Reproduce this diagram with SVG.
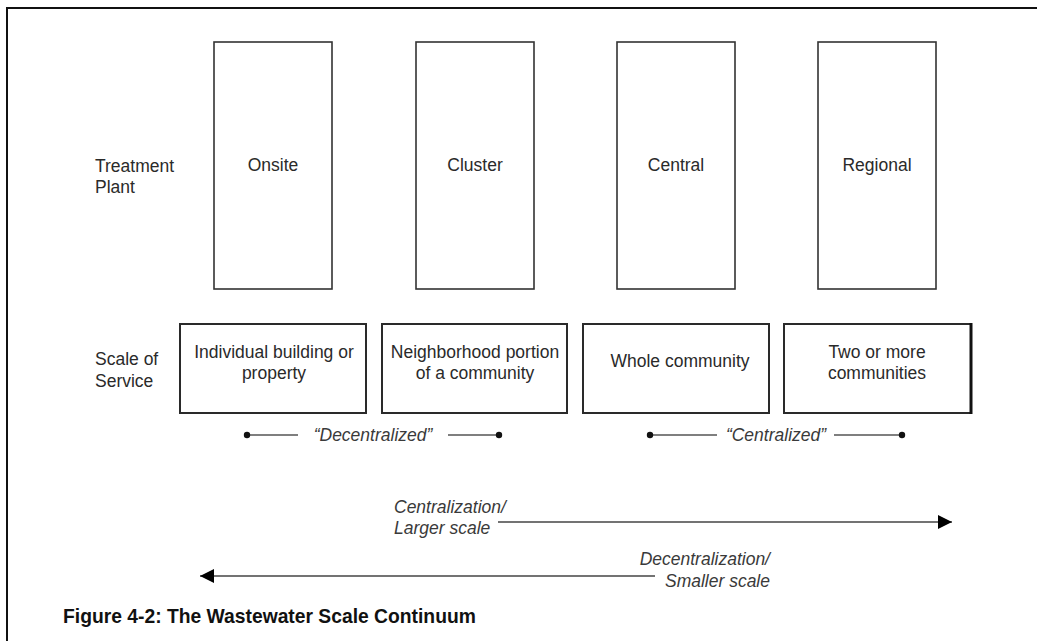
<svg xmlns="http://www.w3.org/2000/svg" width="1037" height="641" viewBox="0 0 1037 641">
<style>
.lbl{font-family:"Liberation Sans",Arial,sans-serif;font-size:17.5px;fill:#2a2a2a}
.it{font-family:"Liberation Sans",Arial,sans-serif;font-size:17.5px;font-style:italic;fill:#3a3a3a}
.cap{font-family:"Liberation Sans",Arial,sans-serif;font-size:19.3px;font-weight:bold;fill:#111}
.tall{fill:#fff;stroke:#333;stroke-width:1.6}
.svc{fill:#fff;stroke:#2a2a2a;stroke-width:2}
.ln{stroke:#555;stroke-width:1.6;fill:none}
.ar{stroke:#444;stroke-width:1.6;fill:none}
</style>
<defs>
<marker id="ah" markerWidth="14" markerHeight="14" refX="14" refY="7" orient="auto" markerUnits="userSpaceOnUse">
<path d="M0,0 L14,7 L0,14 Z" fill="#000"/>
</marker>
</defs>
<rect width="1037" height="641" fill="#fff"/>
<path d="M7,641 V8 H1037" fill="none" stroke="#111" stroke-width="2"/>

<g id="row-labels">
<text class="lbl" x="95" y="172">Treatment</text>
<text class="lbl" x="95" y="193">Plant</text>
<text class="lbl" x="95" y="365">Scale of</text>
<text class="lbl" x="95" y="387">Service</text>
</g>

<g id="onsite"><rect class="tall" x="214" y="42" width="118" height="247"/><text class="lbl" x="273" y="171" text-anchor="middle">Onsite</text></g>
<g id="cluster"><rect class="tall" x="416" y="42" width="118" height="247"/><text class="lbl" x="475" y="171" text-anchor="middle">Cluster</text></g>
<g id="central"><rect class="tall" x="617" y="42" width="118" height="247"/><text class="lbl" x="676" y="171" text-anchor="middle">Central</text></g>
<g id="regional"><rect class="tall" x="818" y="42" width="118" height="247"/><text class="lbl" x="877" y="171" text-anchor="middle">Regional</text></g>

<g id="individual"><rect class="svc" x="180" y="324" width="186" height="89"/><text class="lbl" x="274" y="358" text-anchor="middle">Individual building or</text><text class="lbl" x="274" y="379" text-anchor="middle">property</text></g>
<g id="neighborhood"><rect class="svc" x="382" y="324" width="185" height="89"/><text class="lbl" x="475" y="358" text-anchor="middle">Neighborhood portion</text><text class="lbl" x="475" y="379" text-anchor="middle">of a community</text></g>
<g id="whole"><rect class="svc" x="583" y="324" width="186" height="89"/><text class="lbl" x="680" y="367" text-anchor="middle">Whole community</text></g>
<g id="two-or-more"><rect class="svc" x="784" y="324" width="187" height="89"/><line x1="971" y1="323" x2="971" y2="414" stroke="#111" stroke-width="3"/><text class="lbl" x="877" y="358" text-anchor="middle">Two or more</text><text class="lbl" x="877" y="379" text-anchor="middle">communities</text></g>

<g id="connectors">
<line class="ln" x1="247" y1="435" x2="298" y2="435"/>
<line class="ln" x1="448" y1="435" x2="499" y2="435"/>
<circle cx="247" cy="435" r="3.2" fill="#111"/>
<circle cx="499" cy="435" r="3.2" fill="#111"/>
<line class="ln" x1="650" y1="435" x2="717" y2="435"/>
<line class="ln" x1="834" y1="435" x2="902" y2="435"/>
<circle cx="650" cy="435" r="3.2" fill="#111"/>
<circle cx="902" cy="435" r="3.2" fill="#111"/>
<line class="ar" x1="498" y1="522" x2="952" y2="522" marker-end="url(#ah)"/>
<line class="ar" x1="655" y1="576" x2="200" y2="576" marker-end="url(#ah)"/>
</g>

<g id="range-labels">
<text class="it" x="373" y="441" text-anchor="middle">“Decentralized”</text>
<text class="it" x="776" y="441" text-anchor="middle">“Centralized”</text>
<text class="it" x="394" y="513">Centralization/</text>
<text class="it" x="394" y="534">Larger scale</text>
<text class="it" x="770" y="565" text-anchor="end">Decentralization/</text>
<text class="it" x="770" y="587" text-anchor="end">Smaller scale</text>
</g>

<text class="cap" x="63" y="623">Figure 4-2: The Wastewater Scale Continuum</text>
</svg>
